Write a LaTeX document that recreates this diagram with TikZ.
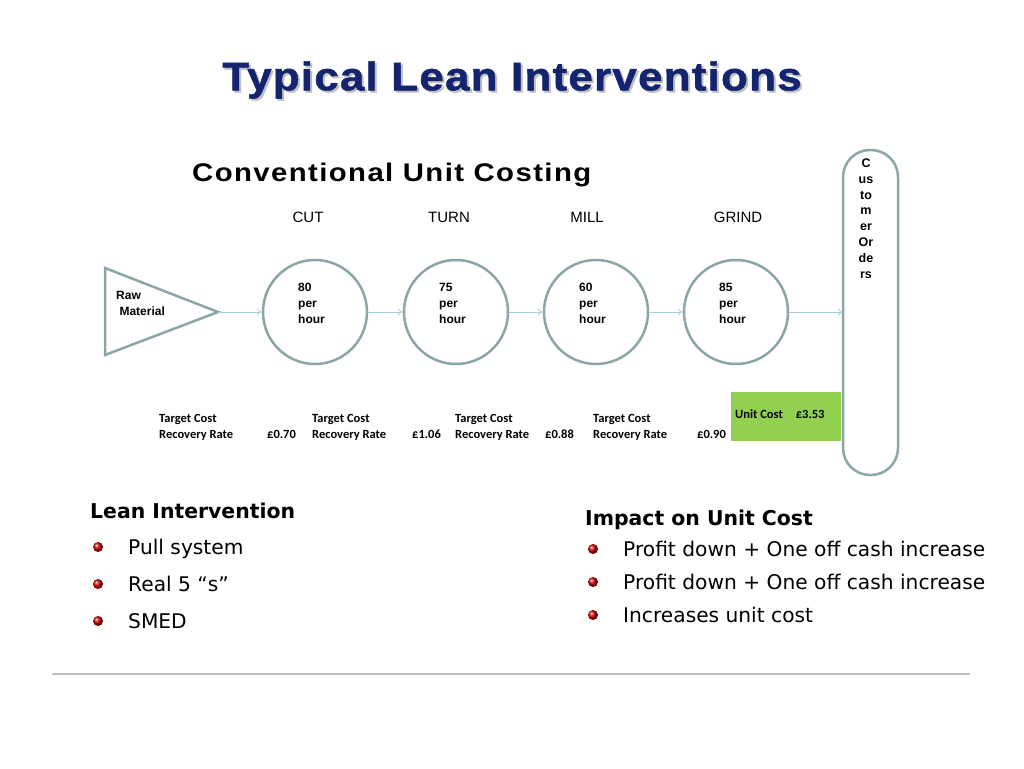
\documentclass[tikz,border=0pt]{standalone}
\usepackage{fontspec}
\setmainfont{Liberation Sans}
\newfontfamily\tahfont{DejaVu Sans}
\newfontfamily\calfont{Carlito}
\newfontfamily\titlefam[FakeStretch=1.1,LetterSpace=3,FakeBold=1.2]{Liberation Sans Bold}
\newfontfamily\convfam[FakeStretch=1.15,LetterSpace=5.5]{Liberation Sans Bold}
\usetikzlibrary{arrows.meta,shadings}
\definecolor{navy}{RGB}{20,36,110}
\definecolor{shapegray}{RGB}{140,165,168}
\definecolor{flow}{RGB}{165,208,216}
\definecolor{ucgreen}{RGB}{146,208,80}
\definecolor{rule}{RGB}{190,190,190}
\begin{document}
\begin{tikzpicture}[x=1pt,y=-1pt,
  shapeline/.style={draw=shapegray,line width=2.5pt},
  station/.style={shapeline,circle,minimum size=104pt,inner sep=0pt},
  flowarrow/.style={draw=flow,line width=0.8pt,-{To[length=5pt,width=7pt]}},
  opname/.style={font=\fontsize{15}{18}\selectfont,anchor=base},
  rate/.style={font=\bfseries\fontsize{12}{16}\selectfont,align=left,anchor=base west,inner sep=0pt},
  cost/.style={font=\calfont\bfseries\fontsize{12.5}{16}\selectfont,align=left,anchor=base west,inner sep=0pt},
  money/.style={font=\calfont\bfseries\fontsize{12.5}{16}\selectfont,anchor=base west,inner sep=0pt},
  head/.style={font=\tahfont\bfseries\fontsize{20.4}{22}\selectfont,anchor=base west,inner sep=0pt},
  item/.style={font=\tahfont\fontsize{20.2}{22}\selectfont,anchor=base west,inner sep=0pt},
  bullet/.style={ball color=red!80!black},
  titlefont/.style={font=\titlefam\fontsize{40}{44}\selectfont},
]
\useasboundingbox (0,0) rectangle (1024,768);
% title
\node[titlefont,text=gray!50] at (514,82) {Typical Lean Interventions};
\node[titlefont,text=navy] (title) at (512,80) {Typical Lean Interventions};
\node[font=\convfam\fontsize{25.5}{30}\selectfont,anchor=base west,inner sep=0pt] (conv) at (192,181) {Conventional Unit Costing};
% operation names
\node[opname] (ncut) at (308,222) {CUT};
\node[opname] (nturn) at (449,222) {TURN};
\node[opname] (nmill) at (587,222) {MILL};
\node[opname] (ngrind) at (738,222) {GRIND};
% raw material triangle
\coordinate (tip) at (218,312);
\draw[shapeline,line join=miter] (105,268) -- (tip) -- (105,355) -- cycle;
\node[font=\bfseries\fontsize{12}{16}\selectfont,align=left,anchor=base west,inner sep=0pt] (raw) at (116,315) {Raw\\\ Material};
% stations
\node[station] (cut) at (315,312) {};
\node[station] (turn) at (456,312) {};
\node[station] (mill) at (596,312) {};
\node[station] (grind) at (736,312) {};
\node[rate] (r1) at (298,323) {80\\per\\hour};
\node[rate] (r2) at (439,323) {75\\per\\hour};
\node[rate] (r3) at (579,323) {60\\per\\hour};
\node[rate] (r4) at (719,323) {85\\per\\hour};
% customer orders
\draw[shapeline,rounded corners=27pt] (843,150) rectangle (898,475);
\node[font=\bfseries\fontsize{12.5}{15.8}\selectfont,align=center,anchor=base,inner sep=0pt] (cust) at (866,278) {C\\us\\to\\m\\er\\Or\\de\\rs};
\coordinate (custin) at (843,312);
% flow arrows
\draw[flowarrow] (tip) -- (cut.west);
\draw[flowarrow] (cut.east) -- (turn.west);
\draw[flowarrow] (turn.east) -- (mill.west);
\draw[flowarrow] (mill.east) -- (grind.west);
\draw[flowarrow] (grind.east) -- (custin);
% costs
\node[cost] (c1) at (159,438) {Target Cost\\Recovery Rate};
\node[cost] (c2) at (312,438) {Target Cost\\Recovery Rate};
\node[cost] (c3) at (455,438) {Target Cost\\Recovery Rate};
\node[cost] (c4) at (593,438) {Target Cost\\Recovery Rate};
\node[money] (m1) at (267,438) {£0.70};
\node[money] (m2) at (412,438) {£1.06};
\node[money] (m3) at (545,438) {£0.88};
\node[money] (m4) at (697,438) {£0.90};
\fill[ucgreen] (731,392) rectangle (841,441);
\node[money] (uc) at (735,418) {Unit Cost\hspace{13pt}£3.53};
% lean intervention
\node[head] (lh) at (90,518) {Lean Intervention};
\shade[bullet] (98,547) circle (5);
\shade[bullet] (98,584) circle (5);
\shade[bullet] (98,621) circle (5);
\node[item] (l1) at (128,554) {Pull system};
\node[item] (l2) at (128,591) {Real 5 “s”};
\node[item] (l3) at (128,628) {SMED};
% impact
\node[head] (ih) at (585,525) {Impact on Unit Cost};
\shade[bullet] (593,549) circle (5);
\shade[bullet] (593,582) circle (5);
\shade[bullet] (593,615) circle (5);
\node[item] (i1) at (623,556) {Profit down + One off cash increase};
\node[item] (i2) at (623,589) {Profit down + One off cash increase};
\node[item] (i3) at (623,622) {Increases unit cost};
% rule
\draw[rule,line width=2.5pt] (52,674) -- (970,674);
\end{tikzpicture}
\end{document}
